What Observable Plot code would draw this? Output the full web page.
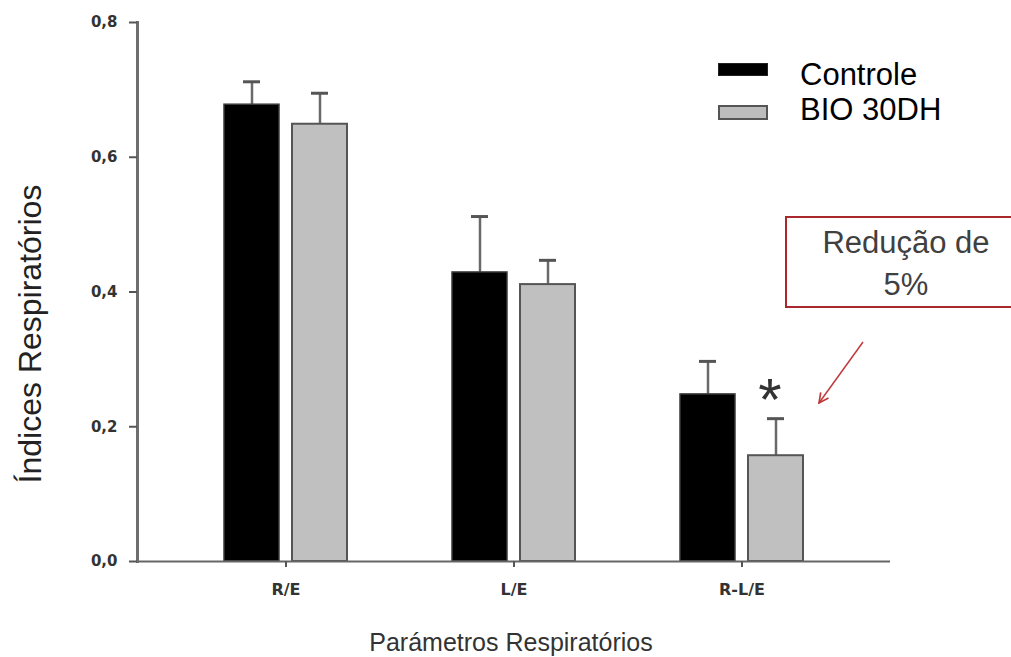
<!DOCTYPE html>
<html>
<head>
<meta charset="utf-8">
<script src="https://cdn.jsdelivr.net/npm/d3@7"></script>
<script src="https://cdn.jsdelivr.net/npm/@observablehq/plot@0.6"></script>
<style>
  html, body { margin: 0; padding: 0; background: #fff; overflow: hidden; }
  #chart { position: relative; width: 1011px; height: 657px; font-family: "Liberation Sans", Arial, sans-serif; }
  #chart svg { position: absolute; left: 0; top: 0; }
  .legend-swatch { position: absolute; left: 718px; width: 50px; box-sizing: border-box; }
  .legend-label { position: absolute; left: 800px; font-size: 31px; line-height: 30px; color: #000; white-space: nowrap; }
  .callout { position: absolute; left: 785px; top: 216px; width: 242px; height: 92px; box-sizing: border-box;
             border: 2px solid #a8282c; background: #fff; }
  .callout div { position: absolute; left: 0; right: 0; top: 4px; text-align: center; font-size: 31px; line-height: 42px; color: #404040; }
  .pointer { position: absolute; left: 0; top: 0; pointer-events: none; }
</style>
</head>
<body>
<div id="chart"></div>
<script>
// Respiratory indices (mean and standard error) per group
const categories = ["R/E", "L/E", "R-L/E"];
const seriesNames = ["Controle", "BIO 30DH"];
const controleMean = [0.678, 0.429, 0.248];
const controleErr = [0.034, 0.083, 0.049];
const bioMean = [0.649, 0.411, 0.157];
const bioErr = [0.046, 0.036, 0.055];
const yTicks = [0, 0.2, 0.4, 0.6, 0.8];
const significant = ["R-L/E"];           // BIO 30DH differs from Controle
const calloutLines = ["Redução de", "5%"];
const yTitle = "Índices Respiratórios";
const xTitle = "Parámetros Respiratórios";

const rows = categories.flatMap((cat, i) => [
  {cat, series: seriesNames[0], mean: controleMean[i], err: controleErr[i]},
  {cat, series: seriesNames[1], mean: bioMean[i], err: bioErr[i]}
]);
const ctrl = rows.filter(d => d.series === seriesNames[0]);
const bio = rows.filter(d => d.series === seriesNames[1]);
const stars = bio.filter(d => significant.includes(d.cat));

const axisFont = "DejaVu Sans, Verdana, sans-serif";
const errTop = d => d.mean + d.err;

const plot = Plot.plot({
  width: 1011,
  height: 657,
  marginLeft: 137,
  marginRight: 121,
  marginTop: 22,
  marginBottom: 96,
  style: {background: "transparent", fontFamily: "Liberation Sans, Arial, sans-serif"},
  x: {type: "band", domain: categories, paddingInner: 0.46, paddingOuter: 0.378, align: 0.5, axis: null},
  y: {domain: [0, 0.8], axis: null},
  marks: [
    // error bars (upper half only)
    Plot.ruleX(ctrl, {x: "cat", y1: "mean", y2: errTop, dx: -34, stroke: "#6a6a6a", strokeWidth: 2.5}),
    Plot.ruleX(bio, {x: "cat", y1: "mean", y2: errTop, dx: 34, stroke: "#6a6a6a", strokeWidth: 2.5}),
    Plot.tickY(ctrl, {x: "cat", y: errTop, insetLeft: 19, insetRight: 87, stroke: "#555", strokeWidth: 3}),
    Plot.tickY(bio, {x: "cat", y: errTop, insetLeft: 87, insetRight: 19, stroke: "#555", strokeWidth: 3}),
    // bars
    Plot.barY(ctrl, {x: "cat", y: "mean", insetRight: 68, fill: "#000", stroke: "#3a3a3a", strokeWidth: 1.5}),
    Plot.barY(bio, {x: "cat", y: "mean", insetLeft: 68, fill: "#c0c0c0", stroke: "#555", strokeWidth: 2}),
    // significance marker
    Plot.text(stars, {x: "cat", y: errTop, text: () => "*", dx: 28, dy: -18, fontSize: 60, fill: "#333", lineAnchor: "middle"}),
    // axes
    Plot.ruleY([0], {stroke: "#666", strokeWidth: 2}),
    Plot.frame({anchor: "left", stroke: "#6e6e6e", strokeWidth: 3}),
    Plot.axisY({ticks: yTicks, tickFormat: d => d.toFixed(1).replace(".", ","), tickSize: 8, tickPadding: 12,
                fontSize: 15, fontWeight: "bold", fontFamily: axisFont, fill: "#333", stroke: "#555", strokeWidth: 2, label: null}),
    Plot.axisX({tickSize: 6, tickPadding: 16, fontSize: 16, fontWeight: "bold", fontFamily: axisFont,
                fill: "#333", stroke: "#555", strokeWidth: 2, label: null}),
    // axis titles
    Plot.text([yTitle], {text: d => d, frameAnchor: "left", rotate: -90, textAnchor: "middle", lineAnchor: "middle",
                         dx: -107, dy: 42, fontSize: 32, fill: "#222"}),
    Plot.text([xTitle], {text: d => d, frameAnchor: "bottom", textAnchor: "middle", lineAnchor: "middle",
                         dx: -3, dy: 81, fontSize: 25, fill: "#333"})
  ]
});

const root = document.getElementById("chart");
root.appendChild(plot);

// legend
const swatches = [
  {top: 63, height: 13, background: "#000", border: "1px solid #222"},
  {top: 105, height: 15, background: "#bdbdbd", border: "2px solid #555"}
];
const labelTops = [60, 95];
seriesNames.forEach((name, i) => {
  d3.select(root).append("div").attr("class", "legend-swatch")
    .style("top", swatches[i].top + "px").style("height", swatches[i].height + "px")
    .style("background", swatches[i].background).style("border", swatches[i].border);
  d3.select(root).append("div").attr("class", "legend-label")
    .style("top", labelTops[i] + "px").text(name);
});

// callout box with pointer
const box = d3.select(root).append("div").attr("class", "callout");
box.append("div").html(calloutLines.join("<br>"));

const pointer = d3.select(root).append("svg").attr("class", "pointer").attr("width", 1011).attr("height", 657);
const marker = pointer.append("defs").append("marker").attr("id", "head")
  .attr("viewBox", "0 0 10 10").attr("refX", 9).attr("refY", 5)
  .attr("markerWidth", 12).attr("markerHeight", 12).attr("markerUnits", "userSpaceOnUse").attr("orient", "auto");
marker.append("path").attr("d", "M1,1 L9,5 L1,9").attr("fill", "none").attr("stroke", "#c0393b").attr("stroke-width", 1.4);
pointer.append("line").attr("x1", 863).attr("y1", 342).attr("x2", 819).attr("y2", 403)
  .attr("stroke", "#c0393b").attr("stroke-width", 1.5).attr("marker-end", "url(#head)");
</script>
</body>
</html>
